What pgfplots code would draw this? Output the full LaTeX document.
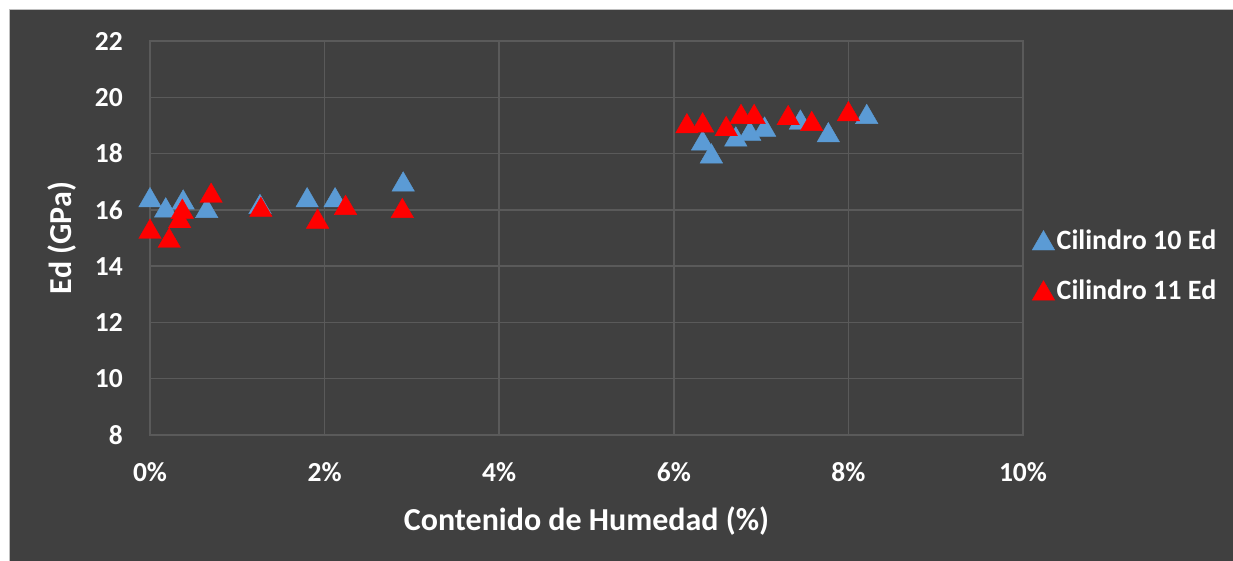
\documentclass[border=0pt]{standalone}
\usepackage{pgfplots}
\pgfplotsset{compat=1.18}
\usepackage{fontspec}
\setmainfont{Carlito}
\definecolor{bg}{HTML}{404040}
\definecolor{gridc}{HTML}{5A5A5A}
\definecolor{edge}{HTML}{BFBFBF}
\definecolor{sblue}{HTML}{5B9BD5}
\definecolor{sred}{HTML}{FF0000}
\begin{document}
\begin{tikzpicture}
\useasboundingbox (0,0) rectangle (1233pt,561pt);
\fill[white] (0,0) rectangle (1233pt,561pt);
\fill[bg] (9pt,0) rectangle (1233pt,551pt);
\draw[edge,line width=1pt] (9pt,0) -- (9pt,551pt) -- (1233pt,551pt);
\begin{axis}[
  scale only axis,
  width=873pt, height=394pt,
  at={(150pt,126pt)}, anchor=south west,
  xmin=0, xmax=10, ymin=8, ymax=22,
  xtick={0,2,4,6,8,10},
  xticklabels={0\%,2\%,4\%,6\%,8\%,10\%},
  ytick={8,10,...,22},
  major tick length=0pt,
  grid=major,
  major grid style={gridc,line width=1.5pt},
  axis line style={gridc,line width=1.5pt},
  /pgf/number format/assume math mode=true,
  tick label style={font=\fontsize{27.5}{31}\selectfont\bfseries, text=white, inner sep=0pt},
  x tick label style={yshift=-27pt},
  y tick label style={xshift=-27pt},
  xlabel={Contenido de Humedad (\%)},
  ylabel={Ed (GPa)},
  label style={font=\fontsize{32}{36}\selectfont\bfseries, text=white},
  xlabel style={at={(axis description cs:0.5,-0.218)}, anchor=center},
  ylabel style={at={(axis description cs:-0.1008,0.5)}, anchor=center},
  legend style={at={(1.0,0.43)}, anchor=west, xshift=9pt, draw=none, fill=none,
    text=white, font=\fontsize{28}{32}\selectfont\bfseries,
    row sep=25pt, inner sep=0pt, cells={anchor=west}},
  legend cell align=left,
  clip=false,
]
\addplot[only marks, mark=triangle*, mark size=13pt, color=sblue, mark options={yshift=-3pt, fill=sblue, draw=sblue}] coordinates {
(0,16.44) (0.18,16.08) (0.38,16.36) (0.65,16.06) (1.26,16.2) (1.80,16.44) (2.12,16.44) (2.90,17.0)
(6.33,18.46) (6.43,18.0) (6.71,18.6) (6.87,18.8) (7.04,18.95) (7.45,19.2) (7.77,18.75) (8.21,19.4)
};
\addlegendentry{Cilindro 10 Ed}
\addplot[only marks, mark=triangle*, mark size=13pt, color=sred, mark options={yshift=-3pt, fill=sred, draw=sred}] coordinates {
(0,15.32) (0.22,15.0) (0.34,15.7) (0.37,16.03) (0.70,16.6) (1.27,16.1) (1.92,15.68) (2.24,16.17) (2.89,16.06)
(6.15,19.07) (6.33,19.1) (6.60,18.97) (6.77,19.4) (6.92,19.4) (7.31,19.36) (7.58,19.15) (8.00,19.5)
};
\addlegendentry{Cilindro 11 Ed}
\end{axis}
\end{tikzpicture}
\end{document}
